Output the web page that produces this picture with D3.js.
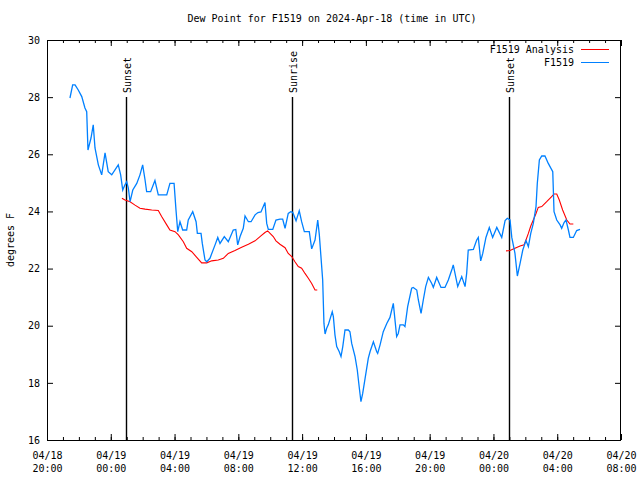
<!DOCTYPE html>
<html><head><meta charset="utf-8">
<script src="https://cdn.jsdelivr.net/npm/d3@7"></script>
<style>body{margin:0;background:#fff}svg{display:block}text{font-family:"DejaVu Sans Mono",monospace;font-size:10px;fill:#000}</style>
</head><body><svg id="c" width="640" height="480"></svg>
<script>
const startTime = Date.UTC(2024, 3, 18, 20, 0);
const titleText = "Dew Point for F1519 on 2024-Apr-18 (time in UTC)";
const yLabel = "degrees F";
const yTicks = [16, 18, 20, 22, 24, 26, 28, 30];
const seriesNames = ["F1519 Analysis", "F1519"];
const seriesColors = ["#ff0000", "#0080ff"];
// hours after 04/18 20:00 UTC
const blueHours = [1.44,1.61,1.76,1.96,2.18,2.38,2.49,2.57,2.76,2.90,
3.01,3.22,3.43,3.64,3.84,4.06,4.47,4.62,4.75,4.89,
5.00,5.10,5.21,5.38,5.63,5.83,6.00,6.15,6.25,6.50,
6.77,6.98,7.51,7.71,7.97,8.09,8.20,8.34,8.51,8.76,
8.86,9.14,9.35,9.43,9.66,9.74,9.91,10.02,10.22,10.54,
10.71,10.85,11.12,11.37,11.68,11.84,11.96,12.11,12.31,12.42,
12.63,12.80,13.05,13.23,13.42,13.67,13.78,13.88,14.16,14.36,
14.61,14.78,14.93,15.13,15.29,15.41,15.62,15.82,15.97,16.14,
16.45,16.60,16.81,16.98,17.08,17.29,17.37,17.44,17.54,17.64,
17.89,17.96,18.06,18.17,18.33,18.44,18.55,18.69,18.90,19.00,
19.11,19.32,19.46,19.59,19.69,19.80,19.95,20.15,20.26,20.47,
20.68,20.74,20.89,21.09,21.31,21.51,21.62,21.72,21.93,22.03,
22.14,22.35,22.45,22.62,22.87,22.97,23.19,23.29,23.46,23.60,
23.75,23.92,24.13,24.23,24.44,24.71,24.96,25.17,25.42,25.48,
25.76,26.01,26.22,26.32,26.42,26.74,26.95,27.05,27.20,27.33,
27.53,27.74,27.95,28.21,28.52,28.73,28.87,29.04,29.15,29.35,
29.50,29.67,29.84,30.04,30.19,30.34,30.50,30.67,30.75,30.88,
31.03,31.23,31.44,31.72,31.80,31.97,32.18,32.28,32.43,32.55,
32.70,32.80,33.01,33.22,33.43];
const blueValues = [27.97,28.43,28.43,28.25,28.02,27.62,27.49,26.15,26.57,27.03,
26.22,25.63,25.28,26.05,25.39,25.28,25.63,25.28,24.75,24.93,
25.04,24.82,24.34,24.75,24.98,25.28,25.63,25.10,24.69,24.69,
25.08,24.58,24.58,24.98,24.98,24.05,23.29,23.64,23.35,23.35,
23.70,23.99,23.64,23.23,23.23,22.88,22.30,22.24,22.36,22.83,
23.09,22.88,23.12,22.94,23.35,23.37,22.83,23.12,23.41,23.84,
23.64,23.64,23.88,23.96,23.98,24.31,23.58,23.37,23.37,23.70,
23.73,23.73,23.41,23.93,23.99,23.97,23.67,24.02,23.64,23.29,
23.29,22.69,23.00,23.70,23.18,21.60,20.08,19.71,19.91,20.03,
20.49,20.32,19.68,19.27,19.09,18.92,19.27,19.85,19.85,19.79,
19.38,18.92,18.45,17.81,17.34,17.63,18.16,18.86,19.09,19.44,
19.09,19.03,19.33,19.79,20.08,20.29,20.55,20.78,19.62,19.73,
20.03,20.03,19.97,20.67,21.31,21.34,21.25,20.90,20.43,20.90,
21.37,21.69,21.48,21.34,21.69,21.34,21.34,21.60,22.01,22.13,
21.37,21.72,21.37,21.83,22.65,22.67,23.00,23.09,22.27,22.53,
23.09,23.44,23.09,23.44,23.09,23.68,23.76,23.70,23.09,22.53,
21.74,22.18,22.65,22.98,22.77,23.23,23.58,24.17,24.98,25.80,
25.94,25.94,25.68,25.39,23.99,23.70,23.53,23.41,23.61,23.70,
23.35,23.09,23.09,23.33,23.37];
const redHours = [4.70,4.89,5.21,5.52,5.83,6.15,6.57,6.98,7.19,7.51,
7.71,8.03,8.24,8.55,8.76,9.08,9.35,9.70,10.02,10.33,
10.74,11.06,11.37,11.79,12.21,12.63,13.05,13.36,13.67,13.84,
14.19,14.36,14.61,14.93,15.13,15.35,15.55,15.76,15.97,16.18,
16.39,16.60,16.81,16.95,22.00,
28.79,29.04,29.35,29.67,29.92,30.04,30.19,30.34,30.50,30.67,
30.81,31.03,31.34,31.65,31.80,31.97,32.13,32.34,32.60,32.80,33.01];
const redValues = [24.46,24.40,24.34,24.22,24.11,24.08,24.05,24.03,23.82,23.53,
23.35,23.29,23.18,22.94,22.71,22.59,22.42,22.20,22.20,22.27,
22.30,22.36,22.53,22.63,22.75,22.85,22.97,23.12,23.26,23.32,
23.12,22.97,22.85,22.73,22.53,22.42,22.24,22.07,22.01,21.83,
21.66,21.48,21.25,21.25,null,
22.62,22.63,22.71,22.79,22.83,23.00,23.23,23.49,23.70,23.93,
24.14,24.17,24.34,24.52,24.61,24.61,24.40,24.05,23.70,23.56,23.56];
const eventLabels = ["Sunset", "Sunrise", "Sunset"];
const eventHours = [4.95, 15.37, 28.98];

const H = 3600e3;
const toDate = h => new Date(startTime + h * H);
const svg = d3.select("#c");
const L = 47, R = 621, T = 40, B = 440;
const x = d3.scaleUtc().domain([toDate(0), toDate(36)]).range([L, R]);
const y = d3.scaleLinear().domain([16, 30]).range([B, T]);

// frame
svg.append("rect").attr("x", L + 0.5).attr("y", T + 0.5).attr("width", R - L - 1).attr("height", B - T)
  .attr("fill", "none").attr("stroke", "#000").attr("stroke-width", 1);

function clean(g){ g.select(".domain").remove(); g.selectAll("line").attr("stroke","#000"); }
const hourTicks = d3.utcHour.every(1).range(toDate(0), toDate(36.01));
const majorTicks = d3.utcHour.every(4).range(toDate(0), toDate(36.01));
svg.append("g").attr("transform", `translate(0,${B})`)
  .call(d3.axisBottom(x).tickValues(hourTicks).tickSize(-3).tickFormat(""))
  .call(clean);
svg.append("g").attr("transform", `translate(0,${T})`)
  .call(d3.axisTop(x).tickValues(hourTicks).tickSize(-3).tickFormat(""))
  .call(clean);
svg.append("g").attr("transform", `translate(0,${T})`)
  .call(d3.axisTop(x).tickValues(majorTicks).tickSize(-6).tickFormat(""))
  .call(clean);
const fmtD = d3.utcFormat("%m/%d"), fmtT = d3.utcFormat("%H:%M");
const xAx = svg.append("g").attr("transform", `translate(0,${B})`)
  .call(d3.axisBottom(x).tickValues(majorTicks).tickSize(-6).tickPadding(0).tickFormat(""))
  .call(clean);
xAx.selectAll(".tick").each(function(d){
  const t = d3.select(this).append("text").attr("text-anchor","middle").attr("fill","#000");
  t.append("tspan").attr("x",0).attr("y",19).text(fmtD(d));
  t.append("tspan").attr("x",0).attr("y",32).text(fmtT(d));
});
const yAx = svg.append("g").attr("transform", `translate(${L},0)`)
  .call(d3.axisLeft(y).tickValues(yTicks).tickSize(-6).tickPadding(7).tickFormat(d3.format("d")))
  .call(clean);
yAx.selectAll("text").attr("fill","#000").style("font-family",'"DejaVu Sans Mono",monospace').style("font-size","10px");
svg.append("g").attr("transform", `translate(${R},0)`)
  .call(d3.axisRight(y).tickValues(yTicks).tickSize(-6).tickFormat(""))
  .call(clean);

svg.append("text").attr("x", 332).attr("y", 22).attr("text-anchor","middle").text(titleText);
svg.append("text").attr("transform","translate(14,240) rotate(-90)").attr("text-anchor","middle").text(yLabel);

eventHours.forEach((h, i) => {
  const xp = Math.round(x(toDate(h))) + 0.5;
  svg.append("line").attr("x1", xp).attr("x2", xp).attr("y1", 97).attr("y2", B)
    .attr("stroke","#000").attr("stroke-width",1.4);
  svg.append("text").attr("transform", `translate(${xp+4},93) rotate(-90)`).attr("text-anchor","start").text(eventLabels[i]);
});

const line = d3.line().defined(d => d[1] != null).x(d => x(toDate(d[0]))).y(d => y(d[1]));
const redData = redHours.map((h,i)=>[h, redValues[i]]);
const blueData = blueHours.map((h,i)=>[h, blueValues[i]]);
svg.append("path").datum(redData).attr("d", line).attr("fill","none").attr("stroke", seriesColors[0]).attr("stroke-width",1.1);
svg.append("path").datum(blueData).attr("d", line).attr("fill","none").attr("stroke", seriesColors[1]).attr("stroke-width",1.3);

seriesNames.forEach((n, i) => {
  const ly = 49 + i * 13;
  svg.append("text").attr("x", 574).attr("y", ly + 4).attr("text-anchor","end").text(n);
  svg.append("line").attr("x1", 581).attr("x2", 609).attr("y1", ly + 0.5).attr("y2", ly + 0.5)
    .attr("stroke", seriesColors[i]).attr("stroke-width", 1);
});
</script></body></html>
